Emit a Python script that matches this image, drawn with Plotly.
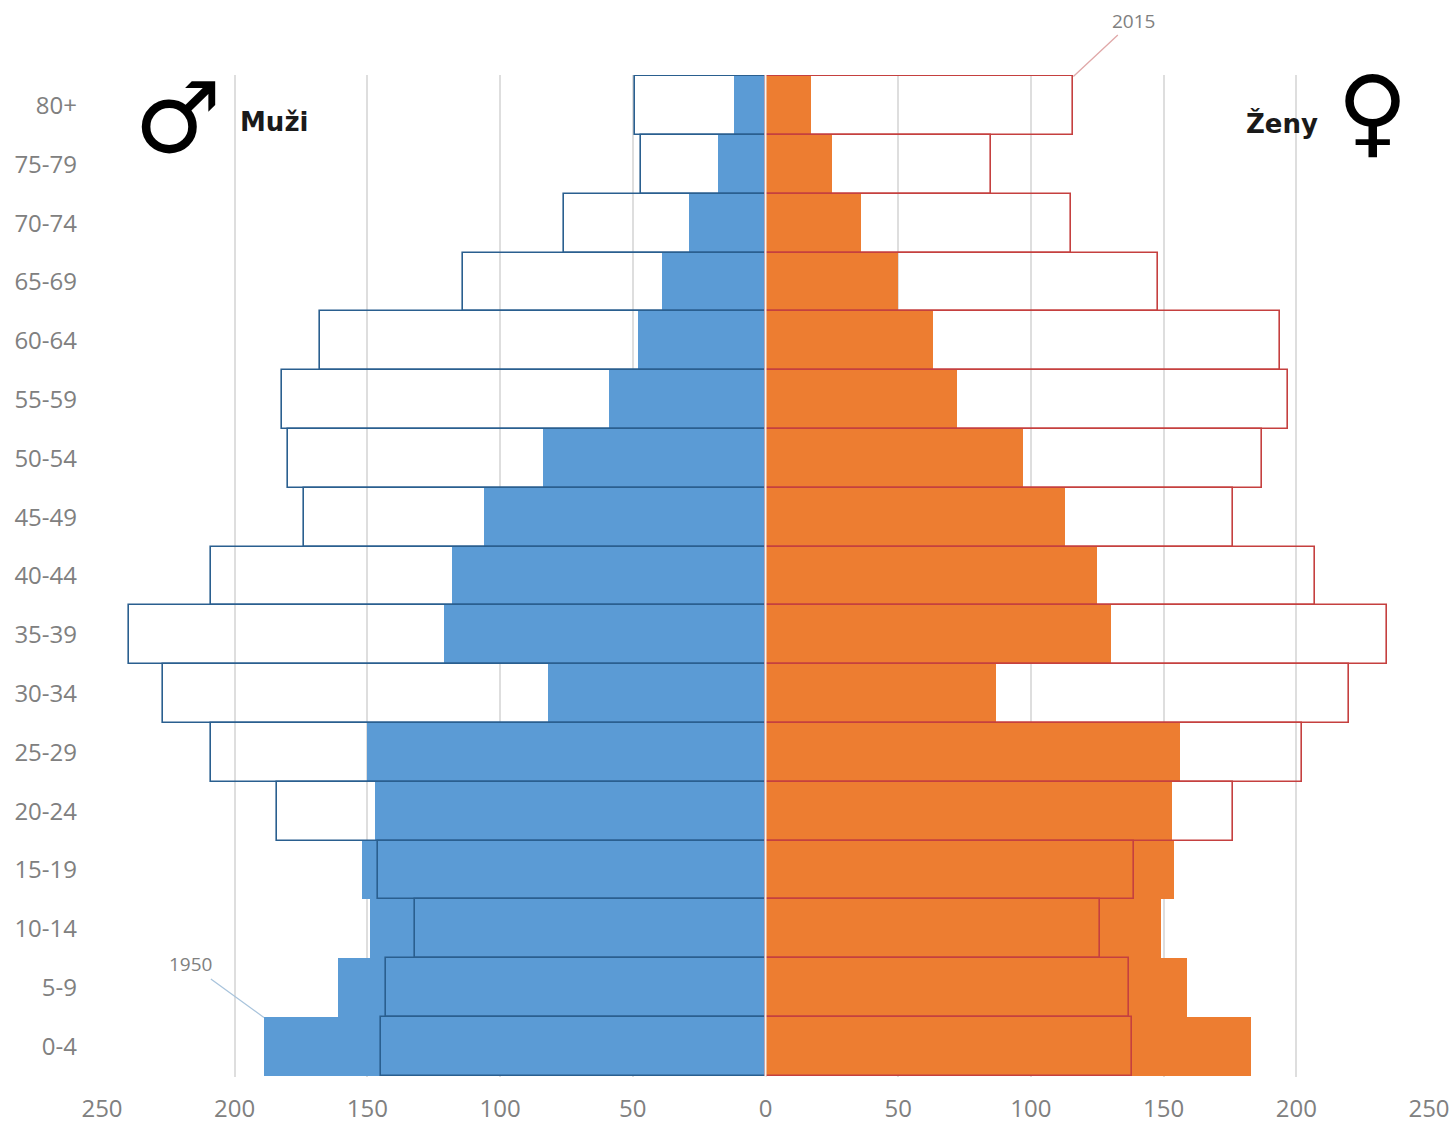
import plotly.graph_objects as go

age_groups = ["0-4","5-9","10-14","15-19","20-24","25-29","30-34","35-39","40-44","45-49","50-54","55-59","60-64","65-69","70-74","75-79","80+"]
male_1950 = [189,161,149,152,147,150,82,121,118,106,84,59,48,39,29,18,12]
female_1950 = [183,159,149,154,153,156,87,130,125,113,97,72,63,50,36,25,17]
male_2015 = [145,143,132,146,184,209,227,240,209,174,180,182,168,114,76,47,49]
female_2015 = [138,137,126,139,176,202,220,234,207,176,187,197,194,148,115,85,116]
x_ticks = [-250,-200,-150,-100,-50,0,50,100,150,200,250]
x_labels = ["250","200","150","100","50","0","50","100","150","200","250"]

GREY = "#808080"
FONT = "Open Sans, sans-serif"
PL, PT, PW, PH = 102, 75, 1327, 1002

def px(v):
    return (v - PL) / PW

def py(v):
    return 1 - (v - PT) / PH

fig = go.Figure()
fig.add_bar(y=age_groups, x=[-v for v in male_1950], orientation="h", marker=dict(color="#5b9bd5", line=dict(width=0)), name="Muži 1950", cliponaxis=False)
fig.add_bar(y=age_groups, x=female_1950, orientation="h", marker=dict(color="#ed7d31", line=dict(width=0)), name="Ženy 1950", cliponaxis=False)
fig.add_bar(y=age_groups, x=[-v for v in male_2015], orientation="h", marker=dict(color="rgba(0,0,0,0)", line=dict(color="#2a5f8f", width=1.6)), name="Muži 2015", cliponaxis=False)
fig.add_bar(y=age_groups, x=female_2015, orientation="h", marker=dict(color="rgba(0,0,0,0)", line=dict(color="#c5403f", width=1.6)), name="Ženy 2015", cliponaxis=False)

fig.add_shape(type="line", xref="x", yref="paper", x0=0, x1=0, y0=0, y1=1, line=dict(color="#f4f4f4", width=2), layer="above")

fig.update_layout(
    width=1455, height=1123, autosize=False,
    margin=dict(l=PL, r=1455-PL-PW, t=PT, b=1123-PT-PH, autoexpand=False),
    barmode="overlay", bargap=0, showlegend=False,
    paper_bgcolor="white", plot_bgcolor="white",
    font=dict(family=FONT, color=GREY, size=24),
    xaxis=dict(automargin=False, range=[-250,250], tickvals=x_ticks, ticktext=x_labels, showgrid=True, gridcolor="#dedede", gridwidth=1.5,
               zeroline=False, showline=False, ticks="", ticklabelstandoff=15, tickfont=dict(family=FONT, size=24, color=GREY)),
    yaxis=dict(automargin=False, categoryorder="array", categoryarray=age_groups, range=[-0.52,16.52], showgrid=False, zeroline=False, showline=False,
               ticks="", ticklen=0, ticklabelstandoff=24, tickfont=dict(family=FONT, size=24, color=GREY)),
    annotations=[
        dict(xref="paper", yref="paper", x=px(238), y=py(122), text="<b>Muži</b>", showarrow=False, xanchor="left", yanchor="middle",
             font=dict(family="DejaVu Sans, sans-serif", size=26, color="#1a1a1a")),
        dict(xref="paper", yref="paper", x=px(1319.5), y=py(124), text="<b>Ženy</b>", showarrow=False, xanchor="right", yanchor="middle",
             font=dict(family="DejaVu Sans, sans-serif", size=26, color="#1a1a1a")),
        dict(xref="paper", yref="paper", x=px(178), y=py(118), text="♂", showarrow=False, xanchor="center", yanchor="middle",
             font=dict(family="DejaVu Sans", size=98, color="#000000")),
        dict(xref="paper", yref="paper", x=px(1372), y=py(112), text="♀", showarrow=False, xanchor="center", yanchor="middle",
             font=dict(family="DejaVu Sans", size=97, color="#000000")),
        dict(x=female_2015[-1], y="80+", yshift=29, xref="x", yref="y", text="2015", showarrow=True, arrowhead=0, arrowwidth=1.3, arrowcolor="#e0a8a8",
             ax=60, ay=-56, xanchor="center", yanchor="middle", standoff=0, font=dict(family=FONT, size=19, color=GREY)),
        dict(x=-male_1950[0], y="0-4", yshift=29, xref="x", yref="y", text="1950", showarrow=True, arrowhead=0, arrowwidth=1.3, arrowcolor="#a9c4dc",
             ax=-73, ay=-53, xanchor="center", yanchor="middle", standoff=0, font=dict(family=FONT, size=19, color=GREY)),
    ],
)
fig.write_html("out.html", config=dict(displayModeBar=False), post_script="document.body.style.margin='0';document.documentElement.style.overflow='hidden';")
